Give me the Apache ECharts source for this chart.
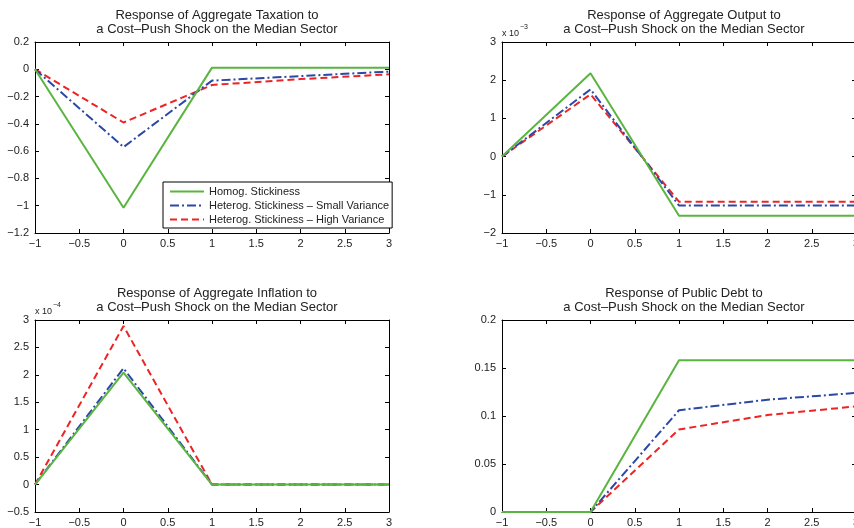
<!DOCTYPE html>
<html lang="en">
<head>
  <meta charset="UTF-8">
  <title>Cost-Push Shock Responses</title>
  <style>
    html, body { margin: 0; height: 100%; width: 100%; background: #fff; }
  </style>
</head>
<body>
  <div id="chart" style="width:854px;height:528px"></div>
  <script src="https://cdn.jsdelivr.net/npm/echarts@6/dist/echarts.min.js"></script>
  <script>
    // horizon (periods)
    const periods = [-1, 0, 1, 2, 3]
    const seriesNames = ['Homog. Stickiness', 'Heterog. Stickiness \u2013 Small Variance', 'Heterog. Stickiness \u2013 High Variance']

    // aggregate taxation
    const taxHomog = [0, -1.015, 0.012, 0.012, 0.012]
    const taxSmall = [0, -0.57, -0.083, -0.05, -0.017]
    const taxHigh = [0, -0.39, -0.115, -0.072, -0.037]

    // aggregate output (x 10^-3)
    const outHomog = [0, 2.18, -1.55, -1.55, -1.55]
    const outSmall = [0, 1.76, -1.28, -1.28, -1.28]
    const outHigh = [0, 1.63, -1.18, -1.18, -1.18]

    // aggregate inflation (x 10^-4)
    const infHomog = [0, 2.04, 0, 0, 0]
    const infSmall = [0, 2.12, 0, 0, 0]
    const infHigh = [0, 2.89, 0, 0, 0]

    // public debt
    const debtHomog = [0, 0, 0.158, 0.158, 0.158]
    const debtSmall = [0, 0, 0.106, 0.117, 0.124]
    const debtHigh = [0, 0, 0.086, 0.101, 0.110]

    const panels = [
      { title: 'Response of Aggregate Taxation to\na Cost\u2013Push Shock on the Median Sector', data: [taxHomog, taxSmall, taxHigh], min: -1.2, max: 0.2, step: 0.2, exp: null },
      { title: 'Response of Aggregate Output to\na Cost\u2013Push Shock on the Median Sector', data: [outHomog, outSmall, outHigh], min: -2, max: 3, step: 1, exp: '\u22123' },
      { title: 'Response of Aggregate Inflation to\na Cost\u2013Push Shock on the Median Sector', data: [infHomog, infSmall, infHigh], min: -0.5, max: 3, step: 0.5, exp: '\u22124' },
      { title: 'Response of Public Debt to\na Cost\u2013Push Shock on the Median Sector', data: [debtHomog, debtSmall, debtHigh], min: 0, max: 0.2, step: 0.05, exp: null }
    ]

    const boxes = [
      { left: 35, top: 42, width: 354, height: 191 },
      { left: 502, top: 42, width: 354, height: 191 },
      { left: 35, top: 320, width: 354, height: 192 },
      { left: 502, top: 320, width: 354, height: 192 }
    ]

    const colors = ['#5ab540', '#2b48a4', '#ee2424']
    const dashes = ['solid', [9, 3, 2, 3], [7, 4]]
    const font = 'Liberation Sans'

    const fmt = (v) => {
      let s = String(Math.round(v * 1000) / 1000)
      return s.replace('-', '\u2212')
    }

    const grid = [], xAxis = [], yAxis = [], series = [], title = [], graphic = []

    panels.forEach(function (p, i) {
      const b = boxes[i]
      grid.push({ left: b.left, top: b.top, width: b.width, height: b.height, containLabel: false, outerBoundsMode: 'none' })

      const tickCommon = { show: true, inside: true, length: 4, lineStyle: { color: '#000' } }
      const lineCommon = { show: true, onZero: false, lineStyle: { color: '#000', width: 1 } }

      xAxis.push({
        type: 'value', gridIndex: i, min: -1, max: 3, interval: 0.5, position: 'bottom',
        axisLine: lineCommon, axisTick: tickCommon, splitLine: { show: false },
        axisLabel: { color: '#222', fontSize: 11, fontFamily: font, margin: 5, formatter: fmt }
      })
      xAxis.push({
        type: 'value', gridIndex: i, min: -1, max: 3, interval: 0.5, position: 'top',
        axisLine: lineCommon, axisTick: tickCommon, splitLine: { show: false },
        axisLabel: { show: false }
      })
      yAxis.push({
        type: 'value', gridIndex: i, min: p.min, max: p.max, interval: p.step, position: 'left',
        axisLine: lineCommon, axisTick: tickCommon, splitLine: { show: false },
        axisLabel: { color: '#222', fontSize: 11, fontFamily: font, margin: 6, formatter: fmt }
      })
      yAxis.push({
        type: 'value', gridIndex: i, min: p.min, max: p.max, interval: p.step, position: 'right',
        axisLine: lineCommon, axisTick: tickCommon, splitLine: { show: false },
        axisLabel: { show: false }
      })

      p.data.forEach(function (vals, k) {
        series.push({
          name: seriesNames[k],
          type: 'line',
          xAxisIndex: i * 2,
          yAxisIndex: i * 2,
          symbol: 'none',
          z: 5 - k,
          animation: false,
          lineStyle: { color: colors[k], width: 2, type: dashes[k] },
          itemStyle: { color: colors[k] },
          data: periods.map((x, j) => [x, vals[j]])
        })
      })

      title.push({
        text: p.title,
        left: b.left + b.width / 2,
        textAlign: 'center',
        top: i < 2 ? 3 : 281,
        textStyle: { fontSize: 13, fontWeight: 'normal', color: '#222', fontFamily: font, lineHeight: 14 }
      })

      if (p.exp) {
        graphic.push({
          type: 'text', left: b.left, top: b.top - 13,
          style: { text: 'x 10', fontSize: 9, fontFamily: font, fill: '#222' }
        })
        graphic.push({
          type: 'text', left: b.left + 18, top: b.top - 18,
          style: { text: p.exp, fontSize: 7, fontFamily: font, fill: '#222' }
        })
      }
    })

    const option = {
      backgroundColor: '#fff',
      animation: false,
      title: title,
      grid: grid,
      xAxis: xAxis,
      yAxis: yAxis,
      graphic: graphic,
      legend: {
        left: 163,
        top: 182,
        orient: 'vertical',
        backgroundColor: '#fff',
        borderColor: '#000',
        borderWidth: 1,
        borderRadius: 0,
        padding: [4, 3, 3, 6],
        itemGap: 3,
        itemWidth: 34,
        itemHeight: 12,
        selectedMode: false,
        itemStyle: { opacity: 0 },
        textStyle: { fontSize: 11, fontFamily: font, color: '#222' },
        data: seriesNames
      },
      series: series
    }

    const myChart = echarts.init(document.getElementById('chart'))
    myChart.setOption(option)
  </script>
</body>
</html>
